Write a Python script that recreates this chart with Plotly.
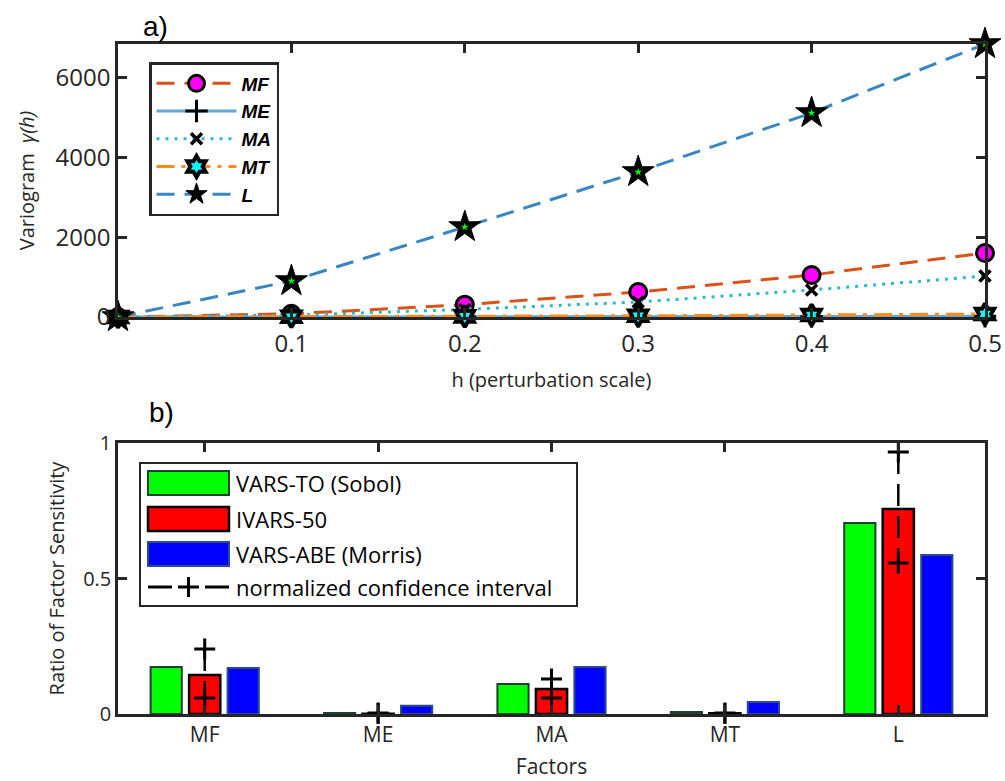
import plotly.graph_objects as go

# ---------------- data ----------------
h = [0, 0.1, 0.2, 0.3, 0.4, 0.5]
gamma_MF = [0, 80, 310, 628, 1054, 1606]
gamma_ME = [0, 3, 6, 10, 14, 18]
gamma_MA = [0, 45, 190, 377, 678, 1029]
gamma_MT = [0, 5, 15, 30, 50, 75]
gamma_L = [0, 903, 2259, 3640, 5120, 6850]
h_ticks = [0.1, 0.2, 0.3, 0.4, 0.5]
h_ticktext = ["0.1", "0.2", "0.3", "0.4", "0.5"]
var_ticks = [0, 2000, 4000, 6000]

factors = ["MF", "ME", "MA", "MT", "L"]
vars_to = [0.173, 0.004, 0.111, 0.007, 0.705]
ivars50 = [0.144, 0.001, 0.092, 0.003, 0.756]
vars_abe = [0.170, 0.030, 0.173, 0.044, 0.587]
ci_low = [0.059, 0.002, 0.059, 0.002, 0.557]
ci_high = [0.240, 0.004, 0.129, 0.004, 0.967]
ratio_ticks = [0, 0.5, 1]
ratio_ticktext = ["0", "0.5", "1"]

legend_bar_names = ["VARS-TO (Sobol)", "IVARS-50", "VARS-ABE (Morris)"]
ci_name = "normalized confidence interval"

# ---------------- geometry helpers (pixel -> paper) ----------------
W, H = 1005, 781
ML, MR, MT_, MB = 118, 20, 44, 67
PW, PH = W - ML - MR, H - MT_ - MB


def px(x):
    return (x - ML) / PW


def py(y):
    return (H - MB - y) / PH


AX = "#262626"
fig = go.Figure()

# ---------------- top panel ----------------
series = [
    ("MF", gamma_MF, dict(color="#D95319", width=3, dash="18px,10px"),
     dict(symbol="circle", size=17, color="#FF00FF", line=dict(color="black", width=3))),
    ("ME", gamma_ME, dict(color="#62A8D8", width=3, dash="solid"),
     dict(symbol="cross-thin", size=16, color="black", line=dict(color="black", width=3))),
    ("MA", gamma_MA, dict(color="#2DB9C8", width=3, dash="3px,6px"),
     dict(symbol="x-thin", size=11, color="black", line=dict(color="black", width=3.5))),
    ("MT", gamma_MT, dict(color="#FF8C1A", width=3, dash="18px,7px,4px,7px"),
     dict(symbol="hexagram", size=16, color="#00FFFF", line=dict(color="black", width=4))),
    ("L", gamma_L, dict(color="#3A86C2", width=3, dash="18px,10px"),
     dict(symbol="star", size=24, color="black", line=dict(color="black", width=1))),
]
for name, yv, ln, mk in series:
    fig.add_trace(go.Scatter(
        x=h, y=yv, mode="lines+markers", name="<b><i>%s</i></b>" % name,
        line=ln, marker=mk, xaxis="x", yaxis="y", cliponaxis=False,
    ))
# green centre of the L stars
fig.add_trace(go.Scatter(
    x=h, y=gamma_L, mode="markers", showlegend=False, hoverinfo="skip",
    marker=dict(symbol="star", size=6, color="#00FF00"),
    xaxis="x", yaxis="y", cliponaxis=False,
))

# ---------------- bottom panel ----------------
bar_specs = [
    (vars_to, "#00FF00", "#1E4030", 2),
    (ivars50, "#FF0000", "#000000", 2.5),
    (vars_abe, "#0000FF", "#2A4B8C", 2),
]
for (vals, fc, lc, lw), nm in zip(bar_specs, legend_bar_names):
    fig.add_trace(go.Bar(
        x=factors, y=vals, name=nm, marker=dict(color=fc, line=dict(color=lc, width=lw)),
        xaxis="x2", yaxis="y2", showlegend=False,
    ))

ci_x, ci_y = [], []
for f, lo, hi in zip(factors, ci_low, ci_high):
    ci_x += [f, f, None]
    ci_y += [hi, lo, None]
fig.add_trace(go.Scatter(
    x=ci_x, y=ci_y, mode="lines+markers", name=ci_name, showlegend=False,
    line=dict(color="black", width=2.5, dash="22px,10px"),
    marker=dict(symbol="cross-thin", size=15, color="black", line=dict(color="black", width=3)),
    xaxis="x2", yaxis="y2", cliponaxis=False,
))

# ---------------- manual legend for bottom panel ----------------
shapes = []
annotations = []
shapes.append(dict(type="rect", xref="paper", yref="paper",
                   x0=px(140), x1=px(577), y0=py(606), y1=py(463),
                   line=dict(color=AX, width=2), fillcolor="white", layer="above"))
row_y = [483, 519, 554, 587]
for (vals, fc, lc, lw), nm, ry in zip(bar_specs, legend_bar_names, row_y[:3]):
    shapes.append(dict(type="rect", xref="paper", yref="paper",
                       x0=px(148), x1=px(229), y0=py(ry + 12), y1=py(ry - 12),
                       line=dict(color=lc, width=lw), fillcolor=fc, layer="above"))
    annotations.append(dict(text=nm, xref="paper", yref="paper", x=px(234), y=py(ry),
                            xanchor="left", yanchor="middle", showarrow=False,
                            font=dict(family="Open Sans", size=22, color="black")))
ry = row_y[3]
for x0, x1 in [(148, 172), (205, 229), (178, 199)]:
    shapes.append(dict(type="line", xref="paper", yref="paper",
                       x0=px(x0), x1=px(x1), y0=py(ry), y1=py(ry),
                       line=dict(color="black", width=3), layer="above"))
shapes.append(dict(type="line", xref="paper", yref="paper",
                   x0=px(188.5), x1=px(188.5), y0=py(ry - 10), y1=py(ry + 10),
                   line=dict(color="black", width=3), layer="above"))
annotations.append(dict(text=ci_name, xref="paper", yref="paper", x=px(234), y=py(ry),
                        xanchor="left", yanchor="middle", showarrow=False,
                        font=dict(family="Open Sans", size=22, color="black")))

# panel labels
annotations.append(dict(text="a)", xref="paper", yref="paper", x=px(155), y=py(27),
                        xanchor="center", yanchor="middle", showarrow=False,
                        font=dict(family="Liberation Sans", size=28, color="black")))
annotations.append(dict(text="b)", xref="paper", yref="paper", x=px(161), y=py(412),
                        xanchor="center", yanchor="middle", showarrow=False,
                        font=dict(family="Liberation Sans", size=28, color="black")))

axis_common = dict(showline=True, linewidth=2.5, linecolor=AX, mirror="ticks",
                   ticks="inside", ticklen=9, tickwidth=2.5, tickcolor=AX,
                   showgrid=False, zeroline=False, automargin=False)

fig.update_layout(
    width=W, height=H,
    margin=dict(l=ML, r=MR, t=MT_, b=MB),
    paper_bgcolor="white", plot_bgcolor="white",
    font=dict(family="Open Sans", color=AX),
    barmode="group", bargap=0.334, bargroupgap=0.19,
    xaxis=dict(domain=[0, 1], anchor="y", range=[0, max(h)],
               tickvals=h_ticks, ticktext=h_ticktext,
               tickfont=dict(size=24, color=AX), ticklabelstandoff=3,
               title=dict(text="h (perturbation scale)", font=dict(size=20, color=AX), standoff=16),
               **axis_common),
    yaxis=dict(domain=[py(317), 1], anchor="x", range=[0, max(gamma_L)],
               tickvals=var_ticks, ticktext=[str(v) for v in var_ticks],
               tickfont=dict(size=24, color=AX),
               title=dict(text="Variogram  <i>γ(h)</i>", font=dict(size=20, color=AX), standoff=16),
               **axis_common),
    xaxis2=dict(domain=[0, 1], anchor="y2", type="category", range=[-0.5, len(factors) - 0.5],
                tickfont=dict(size=21, color=AX),
                title=dict(text="Factors", font=dict(size=21, color=AX), standoff=13),
                **axis_common),
    yaxis2=dict(domain=[0, py(443)], anchor="x2", range=[0, 1],
                tickvals=ratio_ticks, ticktext=ratio_ticktext,
                tickfont=dict(size=20, color=AX),
                title=dict(text="Ratio of Factor Sensitivity", font=dict(size=20, color=AX), standoff=14),
                **axis_common),
    legend=dict(x=px(149), y=py(62), xanchor="left", yanchor="top",
                bordercolor=AX, borderwidth=2.5, bgcolor="white",
                font=dict(family="Liberation Sans", size=19, color="black"),
                itemwidth=80, tracegroupgap=0),
    shapes=shapes, annotations=annotations,
)

fig.write_html("out.html")
